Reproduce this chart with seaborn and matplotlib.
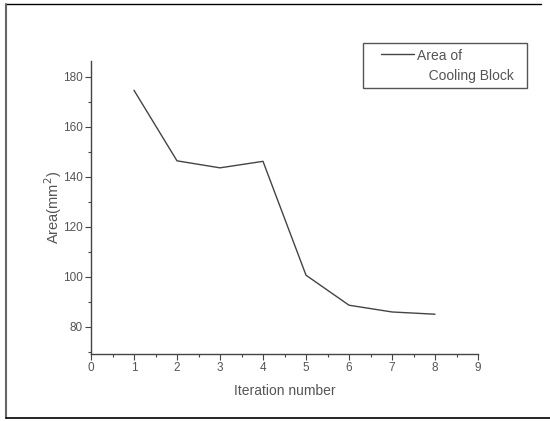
import pandas as pd
import matplotlib.pyplot as plt
import seaborn as sns
from matplotlib.lines import Line2D
from matplotlib.ticker import MultipleLocator

# Data
iterations = [1, 2, 3, 4, 5, 6, 7, 8]
area = [174.6, 146.4, 143.6, 146.2, 100.7, 88.7, 86.0, 85.1]

df = pd.DataFrame({'Iteration': iterations, 'Area': area})

sns.set_style("ticks")
plt.rcParams['font.family'] = ['Liberation Sans', 'DejaVu Sans']

txt = '#555555'
fig = plt.figure(figsize=(5.5, 4.21), dpi=100)
ax = fig.add_axes([91 / 550, 67 / 421, 387 / 550, 293 / 421])

sns.lineplot(data=df, x='Iteration', y='Area', color='#444444', linewidth=1.0,
             label='Area of\n   Cooling Block  ', ax=ax)

ax.set_xlim(0, 9)
ax.set_ylim(69.2, 186.3)
ax.xaxis.set_major_locator(MultipleLocator(1))
ax.xaxis.set_minor_locator(MultipleLocator(0.5))
ax.yaxis.set_minor_locator(MultipleLocator(10))
ax.set_yticks(range(80, 181, 20))

sns.despine(ax=ax)
for s in ['left', 'bottom']:
    ax.spines[s].set_color('#444444')
    ax.spines[s].set_linewidth(1.0)
ax.tick_params(which='major', direction='out', length=4, width=0.8, color='#444444',
               labelsize=8.5, labelcolor=txt, pad=2)
ax.tick_params(which='minor', direction='out', length=2, width=0.8, color='#444444')

ax.set_xlabel('Iteration number', fontsize=10, color=txt, labelpad=7)
ax.set_ylabel('Area(mm$^2$)', fontsize=10.5, color=txt, labelpad=-1)

leg = ax.legend(loc='upper left', bbox_to_anchor=(363 / 550, 1 - 43 / 421),
                bbox_transform=fig.transFigure, frameon=True, fancybox=False,
                fontsize=10, handlelength=3.25, handletextpad=0.25,
                borderpad=0.4, borderaxespad=0, labelcolor=txt)
leg.get_texts()[0].set_linespacing(1.55)
leg.get_frame().set_edgecolor('#555555')
leg.get_frame().set_linewidth(1.0)
leg.get_frame().set_alpha(1)
# put the legend line level with the first text line and indent it, as in the original
hl = leg.get_lines()[0]
ys = list(hl.get_ydata())
hl.set_data([8.6, 32.5], [ys[0] + 8.5, ys[0] + 8.5])

# outer frame lines
fig.add_artist(Line2D([6 / 550, 541 / 550], [1 - 4 / 421, 1 - 4 / 421], color='black', lw=1.0))
fig.add_artist(Line2D([6 / 550, 6 / 550], [1 - 4 / 421, 1 - 418 / 421], color='#666666', lw=1.5))
fig.add_artist(Line2D([6 / 550, 1.0], [1 - 418 / 421, 1 - 418 / 421], color='black', lw=1.2))

plt.savefig('out.png', dpi=100)
